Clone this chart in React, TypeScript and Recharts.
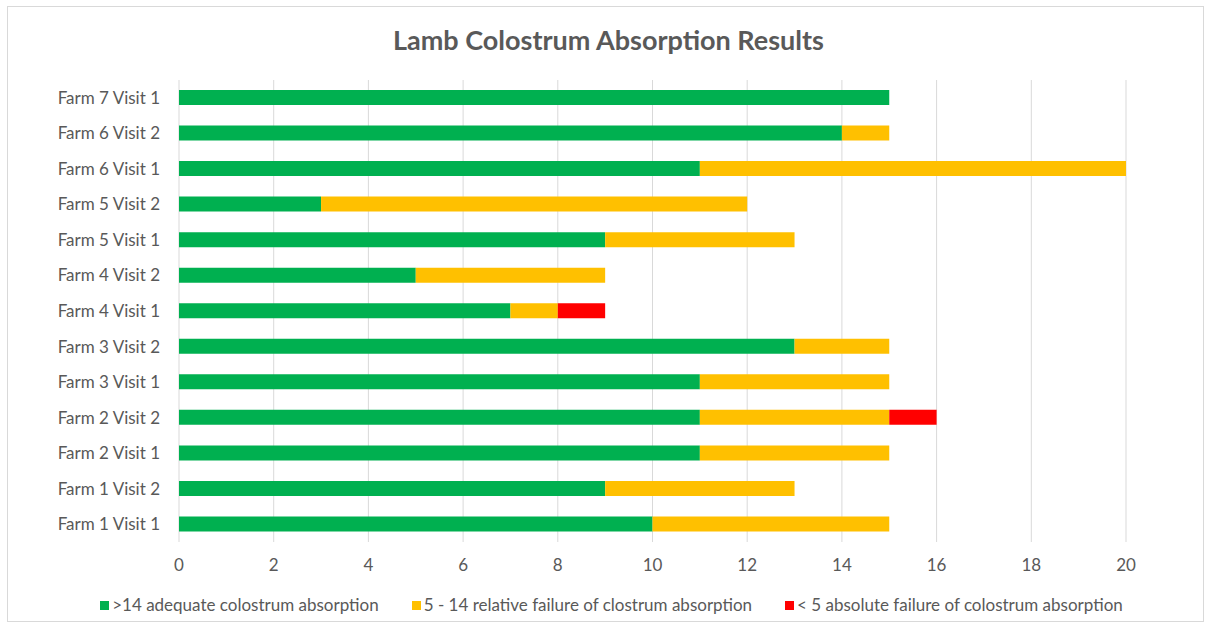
import React from "react";
import { BarChart, Bar, XAxis, YAxis, CartesianGrid, Legend } from "recharts";

const categories = [
  "Farm 7 Visit 1",
  "Farm 6 Visit 2",
  "Farm 6 Visit 1",
  "Farm 5 Visit 2",
  "Farm 5 Visit 1",
  "Farm 4 Visit 2",
  "Farm 4 Visit 1",
  "Farm 3 Visit 2",
  "Farm 3 Visit 1",
  "Farm 2 Visit 2",
  "Farm 2 Visit 1",
  "Farm 1 Visit 2",
  "Farm 1 Visit 1",
];
const adequate = [15, 14, 11, 3, 9, 5, 7, 13, 11, 11, 11, 9, 10];
const relative = [0, 1, 9, 9, 4, 4, 1, 2, 4, 4, 4, 4, 5];
const absolute = [0, 0, 0, 0, 0, 0, 1, 0, 0, 1, 0, 0, 0];
const xTicks = [0, 2, 4, 6, 8, 10, 12, 14, 16, 18, 20];

const seriesKeys = ["adequate", "relative", "absolute"];
const seriesNames = [
  ">14 adequate colostrum absorption",
  "5 - 14 relative failure of clostrum absorption",
  "< 5 absolute failure of colostrum absorption",
];
const colors = ["#00B050", "#FFC000", "#FF0000"];

const data = categories.map((c, i) => ({
  name: c,
  adequate: adequate[i],
  relative: relative[i],
  absolute: absolute[i],
}));

const FONT = "Lato, 'Open Sans', sans-serif";
const TEXT = "#595959";

const LegendContent = (props: any) => {
  const payload = [...(props.payload || [])].sort(
    (a: any, b: any) => seriesKeys.indexOf(a.dataKey) - seriesKeys.indexOf(b.dataKey)
  );
  return (
    <div
      style={{
        display: "flex",
        justifyContent: "center",
        alignItems: "center",
        gap: 33,
        fontSize: 17,
        fontFamily: FONT,
        color: TEXT,
        lineHeight: "20px",
        height: 20,
      }}
    >
      {payload.map((p: any) => (
        <div key={p.dataKey} style={{ display: "flex", alignItems: "center" }}>
          <span
            style={{
              display: "inline-block",
              width: 9,
              height: 9,
              background: p.color,
              marginRight: 3,
            }}
          />
          <span>{p.value}</span>
        </div>
      ))}
    </div>
  );
};

export default function App() {
  return (
    <div
      style={{
        position: "absolute",
        left: 0,
        top: 0,
        width: 1205,
        height: 628,
        background: "#fff",
        fontFamily: FONT,
      }}
    >
      <div
        style={{
          position: "absolute",
          left: 7,
          top: 6,
          width: 1197,
          height: 616,
          border: "1px solid #D9D9D9",
          boxSizing: "border-box",
        }}
      />
      <div
        style={{
          position: "absolute",
          left: 0,
          top: 24,
          width: 1217,
          textAlign: "center",
          fontSize: 27,
          fontWeight: 700,
          color: TEXT,
          lineHeight: "32px",
        }}
      >
        Lamb Colostrum Absorption Results
      </div>
      <div style={{ position: "absolute", left: 0, top: 0 }}>
        <BarChart
          width={1205}
          height={628}
          data={data}
          layout="vertical"
          margin={{ top: 80, right: 79, bottom: 36, left: 0 }}
          barSize={15}
        >
          <CartesianGrid horizontal={false} vertical={true} stroke="#D9D9D9" />
          <XAxis
            type="number"
            domain={[0, 20]}
            ticks={xTicks}
            axisLine={false}
            tickLine={false}
            tickMargin={11}
            height={30}
            tick={{ fill: TEXT, fontSize: 17, fontFamily: FONT }}
          />
          <YAxis
            type="category"
            dataKey="name"
            width={179}
            axisLine={false}
            tickLine={false}
            tickMargin={13}
            tick={{ fill: TEXT, fontSize: 17, fontFamily: FONT }}
          />
          <Legend
            verticalAlign="bottom"
            align="center"
            content={<LegendContent />}
            wrapperStyle={{ left: 0, width: 1223, bottom: 13, height: 20 }}
          />
          <Bar dataKey="adequate" name={seriesNames[0]} stackId="a" fill={colors[0]} isAnimationActive={false} />
          <Bar dataKey="relative" name={seriesNames[1]} stackId="a" fill={colors[1]} isAnimationActive={false} />
          <Bar dataKey="absolute" name={seriesNames[2]} stackId="a" fill={colors[2]} isAnimationActive={false} />
        </BarChart>
      </div>
    </div>
  );
}
